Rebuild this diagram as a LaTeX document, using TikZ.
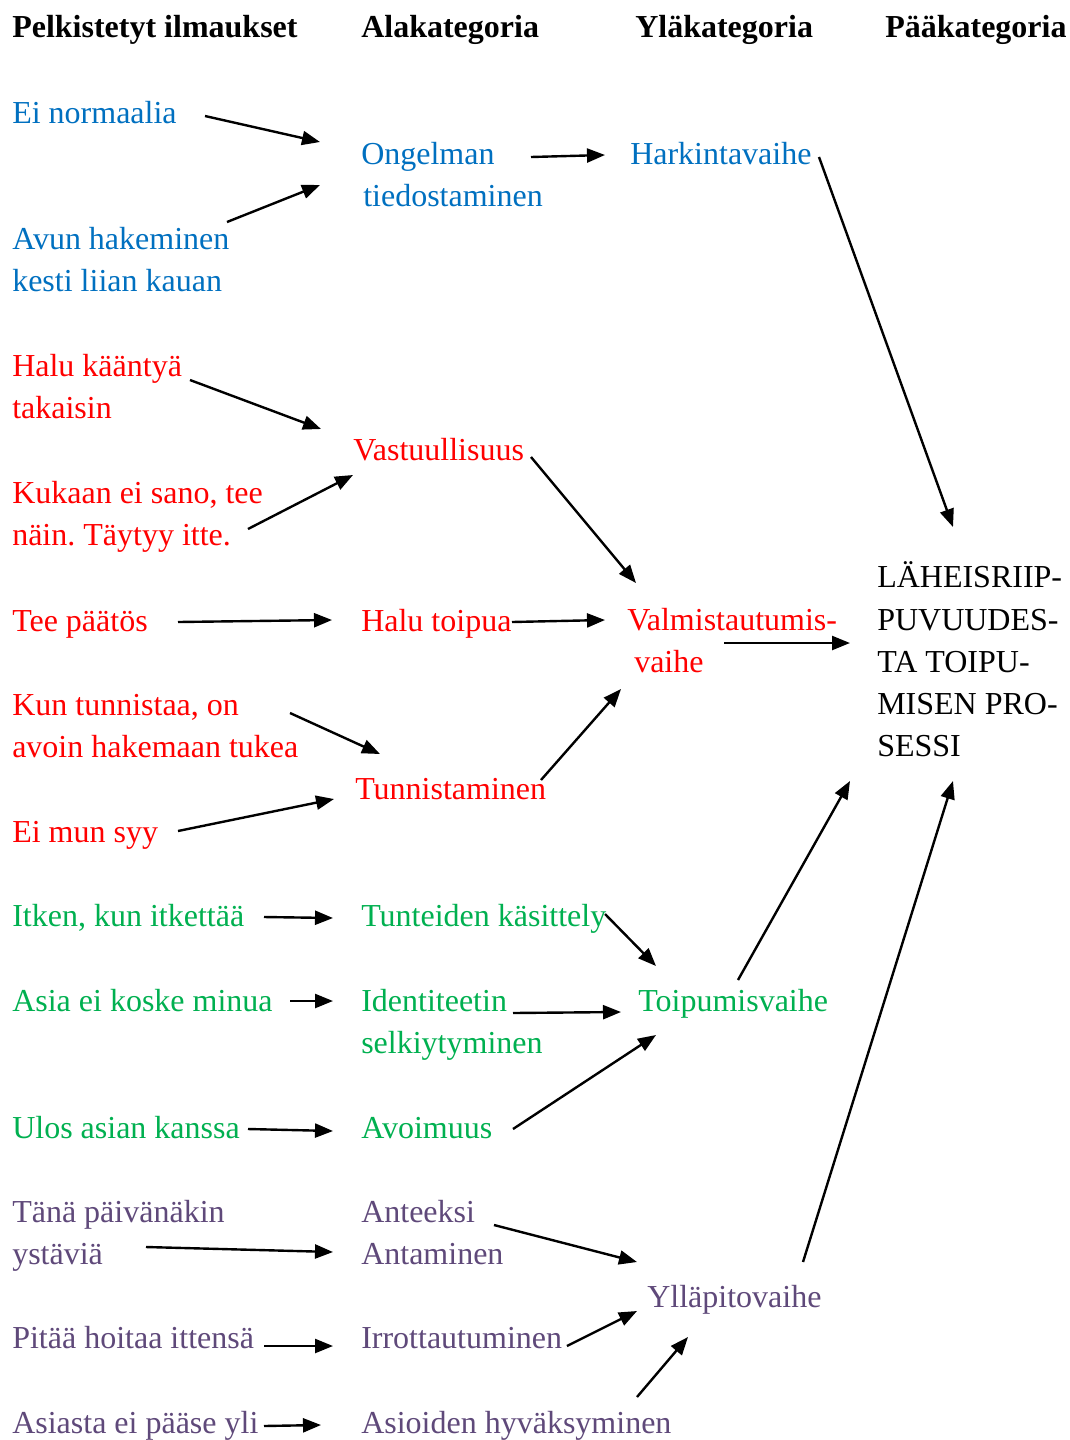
\documentclass[tikz,border=0pt]{standalone}
\usepackage{fontspec}
\setmainfont{Liberation Serif}
\usetikzlibrary{arrows.meta,calc}
\definecolor{cblue}{HTML}{0070C0}
\definecolor{cred}{HTML}{FF0000}
\definecolor{cgreen}{HTML}{00B050}
\definecolor{cpurple}{HTML}{5F497A}
\frenchspacing

\begin{document}
\begin{tikzpicture}[x=0.75pt,y=-0.75pt,
  lbl/.style={inner sep=0pt, anchor=base west, font=\fontsize{24}{30}\selectfont},
  head/.style={lbl, font=\fontsize{24}{30}\selectfont\bfseries},
  blu/.style={lbl, text=cblue},
  rd/.style={lbl, text=cred},
  grn/.style={lbl, text=cgreen},
  prp/.style={lbl, text=cpurple},
  blk/.style={lbl, text=black},
  arr/.style={line width=1.8pt, -{Triangle[length=13.5pt,width=10.5pt]}}]

\path[use as bounding box, fill=white] (0,0) rectangle (1070,1440);

% column headings
\node[head] (h1) at (12,37) {Pelkistetyt ilmaukset};
\node[head] (h2) at (361,37) {Alakategoria};
\node[head] (h3) at (635,37) {Yläkategoria};
\node[head] (h4) at (885,37) {Pääkategoria};

% simplified expressions
\node[blu] (e1)   at (12,123)  {Ei normaalia};
\node[blu] (a1)   at (12,249)  {Avun hakeminen};
\node[blu] (a1b)  at (12,291)  {kesti liian kauan};
\node[rd]  (hk1)  at (12,376)  {Halu kääntyä};
\node[rd]  (hk1b) at (12,418)  {takaisin};
\node[rd]  (k1)   at (12,503)  {Kukaan ei sano, tee};
\node[rd]  (k1b)  at (12,545)  {näin. Täytyy itte.};
\node[rd]  (t1)   at (12,631)  {Tee päätös};
\node[rd]  (ku1)  at (12,715)  {Kun tunnistaa, on};
\node[rd]  (ku1b) at (12,757)  {avoin hakemaan tukea};
\node[rd]  (m1)   at (12,842)  {Ei mun syy};
\node[grn] (i1)   at (12,926)  {Itken, kun itkettää};
\node[grn] (as1)  at (12,1011) {Asia ei koske minua};
\node[grn] (u1)   at (12,1138) {Ulos asian kanssa};
\node[prp] (ta1)  at (12,1222) {Tänä päivänäkin};
\node[prp] (ta1b) at (12,1264) {ystäviä};
\node[prp] (p1)   at (12,1348) {Pitää hoitaa ittensä};
\node[prp] (ap1)  at (12,1433) {Asiasta ei pääse yli};

% subcategories
\node[blu] (ong)   at (361,164)  {Ongelman};
\node[blu] (ong2)  at (363,206)  {tiedostaminen};
\node[rd]  (vast)  at (353,460)  {Vastuullisuus};
\node[rd]  (halu)  at (361,631)  {Halu toipua};
\node[rd]  (tunn)  at (355,799)  {Tunnistaminen};
\node[grn] (tunt)  at (361,926)  {Tunteiden käsittely};
\node[grn] (ident) at (361,1011) {Identiteetin};
\node[grn] (ident2) at (361,1053) {selkiytyminen};
\node[grn] (avo)   at (361,1138) {Avoimuus};
\node[prp] (ant)   at (361,1222) {Anteeksi};
\node[prp] (ant2)  at (361,1264) {Antaminen};
\node[prp] (irr)   at (361,1348) {Irrottautuminen};
\node[prp] (asio)  at (361,1433) {Asioiden hyväksyminen};

% upper categories
\node[blu] (hark)  at (630,164)  {Harkintavaihe};
\node[rd]  (valm)  at (627,630)  {Valmistautumis-};
\node[rd]  (valm2) at (634,672)  {vaihe};
\node[grn] (toip)  at (638,1011) {Toipumisvaihe};
\node[prp] (yll)   at (647,1307) {Ylläpitovaihe};

% main category
\node[blk] (paa1) at (877,587) {LÄHEISRIIP-};
\node[blk] (paa2) at (877,630) {PUVUUDES-};
\node[blk] (paa3) at (877,672) {TA TOIPU-};
\node[blk] (paa4) at (877,714) {MISEN PRO-};
\node[blk] (paa5) at (877,756) {SESSI};

% connectors
\draw[arr] ($(e1.base west)+(193,-7)$)   -- ($(ong.base west)+(-41,-22)$);
\draw[arr] ($(a1.base west)+(215,-27)$)  -- ($(ong.base west)+(-41,21)$);
\draw[arr] ($(ong.base west)+(170,-7)$)  -- ($(hark.base west)+(-25,-9)$);
\draw[arr] ($(hark.base west)+(189,-7)$) -- ($(paa1.base west)+(76,-60)$);
\draw[arr] ($(hk1.base west)+(178,4)$)   -- ($(vast.base west)+(-32,-31)$);
\draw[arr] ($(k1.base west)+(236,26)$)   -- ($(vast.base west)+(0,15)$);
\draw[arr] ($(vast.base west)+(178,-3)$) -- ($(valm.base west)+(9,-47)$);
\draw[arr] ($(t1.base west)+(166,-9)$)   -- ($(halu.base west)+(-29,-11)$);
\draw[arr] ($(halu.base west)+(151,-9)$) -- ($(valm.base west)+(-22,-10)$);
\draw[arr] ($(valm.base west)+(97,13)$)  -- ($(paa2.base west)+(-27,13)$);
\draw[arr] ($(ku1.base west)+(278,-2)$)  -- ($(tunn.base west)+(25,-45)$);
\draw[arr] ($(m1.base west)+(166,-11)$)  -- ($(tunn.base west)+(-21,0)$);
\draw[arr] ($(tunn.base west)+(186,-19)$) -- ($(valm2.base west)+(-13,17)$);
\draw[arr] ($(i1.base west)+(252,-9)$)   -- ($(tunt.base west)+(-28,-8)$);
\draw[arr] ($(tunt.base west)+(244,-12)$) -- ($(toip.base west)+(18,-45)$);
\draw[arr] ($(toip.base west)+(100,-31)$) -- ($(paa5.base west)+(-27,25)$);
\draw[arr] ($(as1.base west)+(278,-10)$)  -- ($(ident.base west)+(-28,-10)$);
\draw[arr] ($(ident.base west)+(152,2)$) -- ($(toip.base west)+(-17,1)$);
\draw[arr] ($(u1.base west)+(236,-9)$)   -- ($(avo.base west)+(-28,-7)$);
\draw[arr] ($(avo.base west)+(152,-9)$)  -- ($(toip.base west)+(18,24)$);
\draw[arr] ($(ta1b.base west)+(134,-17)$) -- ($(ant2.base west)+(-28,-12)$);
\draw[arr] ($(ant.base west)+(133,3)$)   -- ($(yll.base west)+(-10,-45)$);
\draw[arr] ($(p1.base west)+(252,-2)$)   -- ($(irr.base west)+(-28,-2)$);
\draw[arr] ($(irr.base west)+(206,-2)$)  -- ($(yll.base west)+(-10,4)$);
\draw[arr] ($(ap1.base west)+(252,-7)$)  -- ($(asio.base west)+(-40,-8)$);
\draw[arr] ($(asio.base west)+(276,-36)$) -- ($(yll.base west)+(41,30)$);
\draw[arr] ($(yll.base west)+(156,-45)$) -- ($(paa5.base west)+(76,25)$);
\end{tikzpicture}
\end{document}
